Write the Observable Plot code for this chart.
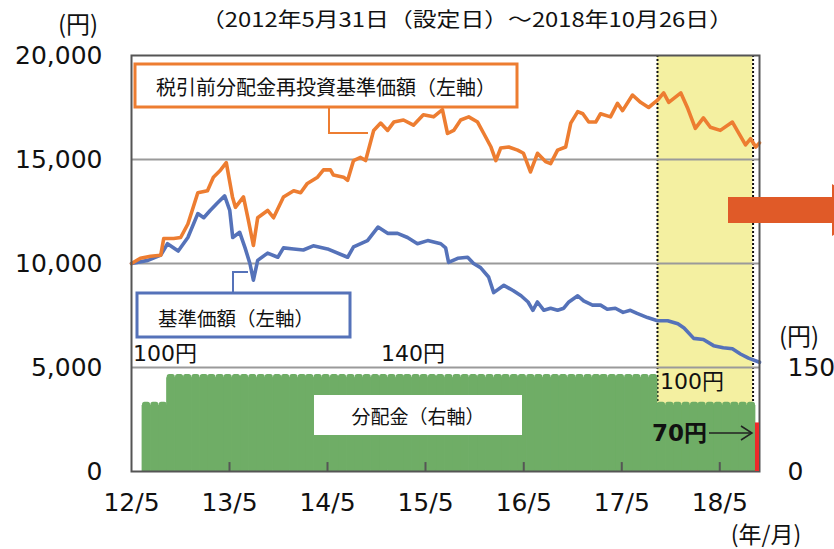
<!DOCTYPE html>
<html><head><meta charset="utf-8">
<script src="https://cdn.jsdelivr.net/npm/d3@7"></script>
<script src="https://cdn.jsdelivr.net/npm/@observablehq/plot@0.6"></script>
<style>
html,body{margin:0;padding:0;background:#fff;}
#chart{position:relative;width:834px;height:549px;overflow:hidden;}
#chart svg{display:block;}
</style></head><body><div id="chart"></div>
<script>
// ---- data ----
const navDates = ["2012-05-31","2012-07-31","2012-09-17","2012-10-12","2012-11-21","2012-12-27","2013-02-02","2013-02-24","2013-03-20","2013-04-15","2013-05-13","2013-06-01","2013-06-12","2013-07-08","2013-07-28","2013-08-15","2013-08-28","2013-09-13","2013-10-20","2013-11-27","2013-12-18","2014-01-25","2014-03-02","2014-04-08","2014-05-31","2014-08-14","2014-09-05","2014-10-27","2014-12-05","2015-01-10","2015-02-16","2015-03-25","2015-05-01","2015-06-08","2015-07-27","2015-08-14","2015-08-25","2015-09-28","2015-11-04","2015-11-26","2015-12-22","2016-01-21","2016-02-09","2016-03-18","2016-04-21","2016-05-21","2016-06-16","2016-07-04","2016-07-21","2016-08-14","2016-09-08","2016-10-04","2016-10-27","2016-11-15","2016-12-18","2017-01-09","2017-02-11","2017-03-13","2017-04-07","2017-05-07","2017-06-05","2017-07-02","2017-07-27","2017-09-04","2017-10-11","2017-11-18","2017-12-26","2018-01-18","2018-02-23","2018-03-31","2018-05-08","2018-06-13","2018-07-17","2018-08-16","2018-09-15","2018-10-26"];
const navValues = [10000,10150,10400,10950,10600,11250,12400,12200,12550,12900,13250,12550,11250,11500,10750,10000,9200,10150,10500,10300,10750,10700,10650,10850,10700,10300,10800,11100,11750,11450,11450,11250,10950,11100,10950,10750,10050,10250,10300,10000,9800,9350,8600,8950,8700,8450,8150,7750,8150,7750,7850,7750,7850,8150,8450,8200,8000,8000,7800,7850,7650,7750,7600,7400,7250,7250,7100,6900,6400,6350,6050,5950,5900,5650,5450,5250];

const reinvDates = ["2012-05-31","2012-07-03","2012-08-10","2012-09-17","2012-09-28","2012-11-04","2012-11-30","2012-12-27","2013-02-02","2013-03-10","2013-04-01","2013-04-28","2013-05-19","2013-06-11","2013-06-22","2013-07-22","2013-08-09","2013-08-28","2013-09-13","2013-10-20","2013-11-11","2013-12-18","2014-01-25","2014-02-20","2014-03-17","2014-04-24","2014-05-16","2014-06-11","2014-06-22","2014-07-30","2014-08-14","2014-09-05","2014-10-01","2014-10-20","2014-11-19","2014-12-15","2015-01-10","2015-02-02","2015-03-10","2015-04-16","2015-05-23","2015-06-30","2015-08-02","2015-08-21","2015-09-13","2015-10-09","2015-11-08","2015-12-11","2016-01-03","2016-01-30","2016-02-17","2016-03-06","2016-04-05","2016-05-08","2016-05-30","2016-06-25","2016-07-21","2016-08-20","2016-09-08","2016-10-04","2016-11-03","2016-11-22","2016-12-18","2017-01-06","2017-01-28","2017-02-23","2017-03-13","2017-04-19","2017-05-15","2017-06-03","2017-07-10","2017-08-09","2017-09-08","2017-10-11","2017-11-03","2017-11-22","2018-01-06","2018-02-01","2018-03-01","2018-03-31","2018-04-26","2018-06-02","2018-07-17","2018-08-08","2018-09-04","2018-09-23","2018-10-12","2018-10-26"];
const reinvValues = [10000,10250,10350,10400,11200,11200,11250,11900,13400,13500,14150,14500,14850,13200,12700,13200,12100,10870,12200,12550,12200,13200,13500,13400,13850,14150,14500,14500,14250,14150,14000,14950,15100,14950,16400,16750,16400,16800,16900,16650,17150,17050,17400,16250,16400,16900,17050,16800,16250,15600,14950,15550,15600,15450,15300,14400,15300,14900,14800,15450,15600,16750,17300,17200,16800,16800,17200,17050,17700,17350,18100,17750,17500,17850,18200,17750,18200,17450,16500,17000,16550,16400,16800,16300,15700,16000,15600,15800];

// monthly distributions (円), paid around the 26th
const distMonths = [
  "2012-07","2012-08","2012-09","2012-10","2012-11","2012-12",
  "2013-01","2013-02","2013-03","2013-04","2013-05","2013-06","2013-07","2013-08","2013-09","2013-10","2013-11","2013-12",
  "2014-01","2014-02","2014-03","2014-04","2014-05","2014-06","2014-07","2014-08","2014-09","2014-10","2014-11","2014-12",
  "2015-01","2015-02","2015-03","2015-04","2015-05","2015-06","2015-07","2015-08","2015-09","2015-10","2015-11","2015-12",
  "2016-01","2016-02","2016-03","2016-04","2016-05","2016-06","2016-07","2016-08","2016-09","2016-10","2016-11","2016-12",
  "2017-01","2017-02","2017-03","2017-04","2017-05","2017-06","2017-07","2017-08","2017-09","2017-10","2017-11","2017-12",
  "2018-01","2018-02","2018-03","2018-04","2018-05","2018-06","2018-07","2018-08","2018-09","2018-10"];
const distYen = [
  100,100,100,140,140,140,
  140,140,140,140,140,140,140,140,140,140,140,140,
  140,140,140,140,140,140,140,140,140,140,140,140,
  140,140,140,140,140,140,140,140,140,140,140,140,
  140,140,140,140,140,140,140,140,140,140,140,140,
  140,140,140,140,140,140,140,140,140,100,100,100,
  100,100,100,100,100,100,100,100,100,70];

const xTickDates = ["2012-05-31","2013-05-31","2014-05-31","2015-05-31","2016-05-31","2017-05-31","2018-05-31"];
const xTickLabels = ["12/5","13/5","14/5","15/5","16/5","17/5","18/5"];
const leftTicks = [0,5000,10000,15000,20000];
const rightTicks = [0,150];
const highlightPeriod = ["2017-10-11","2018-10-02"];
const periodStart = "2012-05-31", periodEnd = "2018-10-26";

// ---- build ----
const parse = d3.utcParse("%Y-%m-%d");
const LEFT_MAX = 20000, RIGHT_MAX = 150, LEFT_AT_RIGHT_MAX = 5000;
const toLeft = yen => yen * LEFT_AT_RIGHT_MAX / RIGHT_MAX;

const nav = navDates.map((d,i)=>({date: parse(d), value: navValues[i]}));
const reinv = reinvDates.map((d,i)=>({date: parse(d), value: reinvValues[i]}));
const dist = distMonths.map((m,i)=>{
  const d = parse(m + "-26");
  return {x1: d3.utcDay.offset(d,-15), x2: d3.utcDay.offset(d,15), y: toLeft(distYen[i]), last: i === distMonths.length-1};
});
const hl = [{x1: parse(highlightPeriod[0]), x2: parse(highlightPeriod[1])}];
const tickDates = xTickDates.map(parse);
const tickLabel = new Map(xTickDates.map((d,i)=>[+parse(d), xTickLabels[i]]));

const ORANGE = "#ed7d31", BLUE = "#5572b9", GREEN = "#6fad66", RED = "#ee2a2a", YELLOW = "#f4f0a1";
const FONT = "'DejaVu Sans','Noto Sans CJK JP',sans-serif";
const CJK = "'Noto Sans CJK JP','DejaVu Sans',sans-serif";
const green = dist.filter(d=>!d.last), red = dist.filter(d=>d.last);

const chart = Plot.plot({
  width: 834, height: 549,
  marginTop: 55, marginBottom: 78, marginLeft: 131, marginRight: 75,
  style: {fontFamily: FONT, fontSize: "25px", color: "#111", background: "#fff", overflow: "visible"},
  x: {type: "utc", domain: [parse(periodStart), parse(periodEnd)]},
  y: {domain: [0, LEFT_MAX]},
  marks: [
    Plot.rect(hl, {x1: "x1", x2: "x2", y1: 0, y2: LEFT_MAX, fill: YELLOW}),
    Plot.ruleX(hl.flatMap(d=>[d.x1, d.x2]), {stroke: "#111", strokeWidth: 2, strokeDasharray: "2,2"}),
    Plot.ruleY([5000,10000,15000], {stroke: "#9a9a9a", strokeWidth: 2}),
    // solid body of the columns (no gaps), then the rounded, scalloped tops
    Plot.rect(green, {x1: "x1", x2: "x2", y1: 0, y2: d => d.y - 180, fill: GREEN, stroke: GREEN, strokeWidth: 0.8, clip: true}),
    Plot.rect(green, {x1: "x1", x2: "x2", y1: 0, y2: "y", fill: GREEN, rx: 2.5, clip: true}),
    Plot.ruleX(tickDates.slice(1), {y1: 0, y2: 430, stroke: "#555", strokeWidth: 2}),
    Plot.line(nav, {x: "date", y: "value", stroke: BLUE, strokeWidth: 3.6, strokeLinejoin: "round"}),
    Plot.line(reinv, {x: "date", y: "value", stroke: ORANGE, strokeWidth: 3.6, strokeLinejoin: "round"}),
    Plot.frame({stroke: "#555", strokeWidth: 2}),
    Plot.rect(red, {x1: "x1", x2: "x2", y1: 0, y2: "y", fill: RED, insetRight: -2, clip: true}),
    Plot.axisY(leftTicks, {anchor: "left", tickSize: 0, tickPadding: 29, tickFormat: d3.format(","), fontSize: 25, label: null}),
    Plot.axisY(rightTicks.map(toLeft), {anchor: "right", tickSize: 0, tickPadding: 28, tickFormat: d => String(d * RIGHT_MAX / LEFT_AT_RIGHT_MAX), fontSize: 25, label: null}),
    Plot.axisX(tickDates, {anchor: "bottom", tickSize: 0, tickPadding: 22, tickFormat: d => tickLabel.get(+d), fontSize: 25, label: null})
  ]
});
document.getElementById("chart").appendChild(chart);

// ---- annotations ----
const svg = d3.select(chart);
const g = svg.append("g").attr("font-family", CJK).attr("fill", "#111").attr("text-anchor", "start");

const txt = (x, y, t, size, anchor="middle", family=CJK) => g.append("text").attr("x", x).attr("y", y)
  .attr("text-anchor", anchor).attr("dominant-baseline", "central").attr("font-family", family).attr("font-size", size).text(t);

// title and unit labels
txt(467, 18, "（2012年5月31日（設定日）～2018年10月26日）", 20)
  .attr("textLength", 532).attr("lengthAdjust", "spacingAndGlyphs");
txt(78, 22, "(円)", 24);
txt(799, 334, "(円)", 24);
txt(766, 533, "(年/月)", 23);

// distribution labels
txt(133, 353, "100円", 22, "start", FONT);
txt(413, 353, "140円", 22, "middle", FONT);
txt(660, 381, "100円", 22, "start", FONT);

// distribution label box
g.append("rect").attr("x", 314).attr("y", 395).attr("width", 208).attr("height", 40).attr("fill", "#fff");
txt(418, 415, "分配金（右軸）", 19);

// 70円 arrow
txt(707, 433, "70円", 23, "end", FONT).attr("font-weight", "bold");
g.append("line").attr("x1", 709).attr("x2", 752).attr("y1", 433).attr("y2", 433).attr("stroke", "#222").attr("stroke-width", 1.5);
g.append("polyline").attr("points", "741,426 752,433 741,440").attr("fill", "none").attr("stroke", "#222").attr("stroke-width", 1.5);

// orange callout
g.append("polyline").attr("points", "329,107 329,133 368,133").attr("fill", "none").attr("stroke", ORANGE).attr("stroke-width", 2);
g.append("rect").attr("x", 135).attr("y", 64).attr("width", 382).attr("height", 43).attr("fill", "#fff").attr("stroke", ORANGE).attr("stroke-width", 3);
txt(326, 86, "税引前分配金再投資基準価額（左軸）", 20);

// blue callout
g.append("polyline").attr("points", "233,293 233,272 248,272").attr("fill", "none").attr("stroke", BLUE).attr("stroke-width", 2);
g.append("rect").attr("x", 137).attr("y", 293).attr("width", 213).attr("height", 44).attr("fill", "#fff").attr("stroke", BLUE).attr("stroke-width", 3);
txt(236, 317, "基準価額（左軸）", 19.5);

// big block arrow at right edge
g.append("rect").attr("x", 728).attr("y", 197).attr("width", 106).attr("height", 26).attr("fill", "#e05a28");
g.append("polygon").attr("points", "832,184 870,210 832,236").attr("fill", "#e05a28");
</script>
</body></html>
